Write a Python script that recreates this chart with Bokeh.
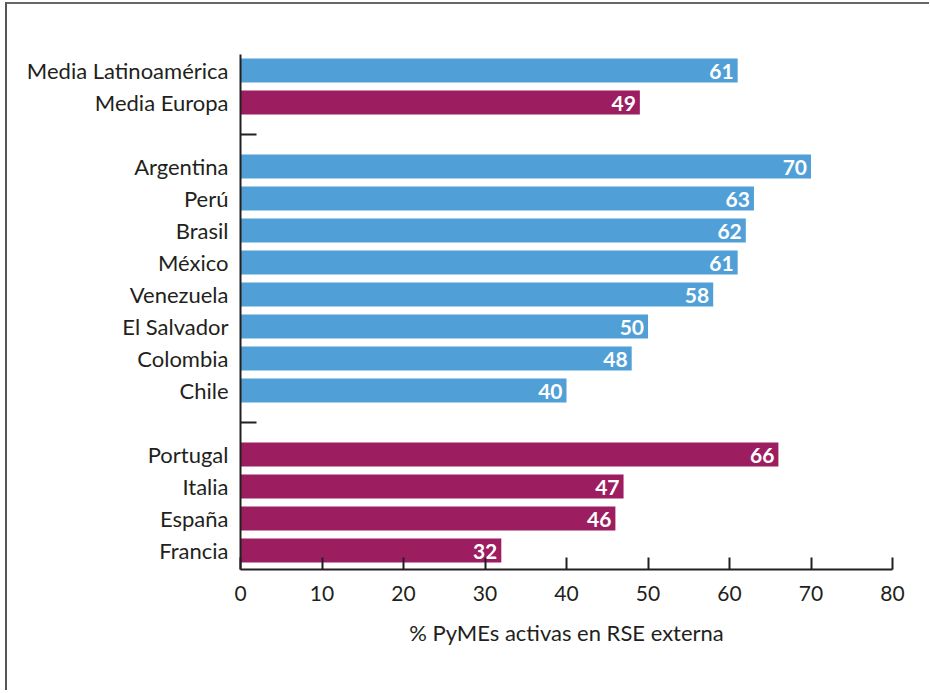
from bokeh.plotting import figure
from bokeh.models import ColumnDataSource, Range1d, FixedTicker
from bokeh.core.properties import value
from bokeh.embed import file_html
from bokeh.resources import INLINE

# ---- data ----
labels = ["Media Latinoamérica", "Media Europa", None,
          "Argentina", "Perú", "Brasil", "México", "Venezuela",
          "El Salvador", "Colombia", "Chile", None,
          "Portugal", "Italia", "España", "Francia"]
values = [61, 49, None, 70, 63, 62, 61, 58, 50, 48, 40, None, 66, 47, 46, 32]
groups = ["LA", "EU", None, "LA", "LA", "LA", "LA", "LA", "LA", "LA", "LA", None,
          "EU", "EU", "EU", "EU"]
x_ticks = [0, 10, 20, 30, 40, 50, 60, 70, 80]
x_title = "% PyMEs activas en RSE externa"

BLUE = "#519fd7"
MAGENTA = "#9d1d61"
DARK = "#231f20"
FONT = "Lato"

rows = [(-i, l, v, g) for i, (l, v, g) in enumerate(zip(labels, values, groups)) if l is not None]
gaps = [-i for i, l in enumerate(labels) if l is None]

src = ColumnDataSource(dict(
    y=[r[0] for r in rows],
    label=[r[1] for r in rows],
    v=[r[2] for r in rows],
    txt=[str(r[2]) for r in rows],
    color=[BLUE if r[3] == "LA" else MAGENTA for r in rows],
))

p = figure(output_backend="svg", toolbar_location=None,
           frame_width=652, frame_height=515,
           min_border_left=233, min_border_right=37,
           min_border_top=50, min_border_bottom=121,
           x_range=Range1d(0, 80), y_range=Range1d(-15.594, 0.5))

p.hbar(y="y", right="v", left=0, height=0.75, color="color", line_color=None, source=src)
p.text(x="v", y="y", text="txt", source=src, text_align="right", text_baseline="middle",
       x_offset=-4, y_offset=1, text_color="white", text_font=value(FONT),
       text_font_style="bold", text_font_size="21px")

p.grid.visible = False
p.outline_line_color = None
p.background_fill_color = "white"
p.border_fill_color = "white"

# y axis
yax = p.yaxis[0]
yax.ticker = FixedTicker(ticks=[r[0] for r in rows], minor_ticks=gaps)
yax.major_label_overrides = {float(r[0]): r[1] for r in rows}
yax.major_tick_in = 0
yax.major_tick_out = 0
yax.minor_tick_in = 16
yax.minor_tick_out = 0
yax.minor_tick_line_color = DARK
yax.minor_tick_line_width = 2
yax.axis_line_color = DARK
yax.axis_line_width = 2
yax.major_label_standoff = 12
yax.major_label_text_font = FONT
yax.major_label_text_font_size = "22px"
yax.major_label_text_color = DARK

# x axis
xax = p.xaxis[0]
xax.ticker = FixedTicker(ticks=x_ticks)
xax.major_tick_in = 12
xax.major_tick_out = 0
xax.minor_tick_in = 0
xax.minor_tick_out = 0
xax.major_tick_line_color = DARK
xax.major_tick_line_width = 2
xax.axis_line_color = DARK
xax.axis_line_width = 2
xax.major_label_standoff = 16
xax.major_label_text_font = FONT
xax.major_label_text_font_size = "21px"
xax.major_label_text_color = DARK
xax.axis_label = x_title
xax.axis_label_standoff = 15
xax.axis_label_text_font = FONT
xax.axis_label_text_font_style = "normal"
xax.axis_label_text_font_size = "22px"
xax.axis_label_text_color = DARK

p.styles = {"border-top": "2px solid #666666", "border-left": "2px solid #555555",
            "margin-left": "5px", "margin-top": "2px"}

open("out.html", "w").write(file_html(p, INLINE))
